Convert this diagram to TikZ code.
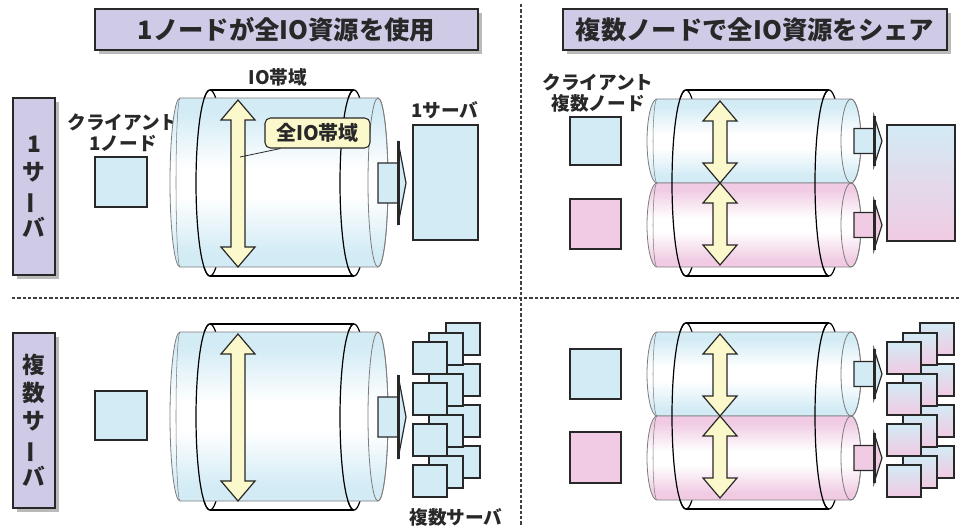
\documentclass[tikz,border=0pt]{standalone}
\usepackage{fontspec}
\setmainfont{Noto Sans CJK JP}
\usepackage{graphicx}
\usetikzlibrary{fit, calc, shadows}

\definecolor{hdrlav}{RGB}{207,202,230}
\definecolor{cliblue}{RGB}{210,235,245}
\definecolor{clipink}{RGB}{240,203,227}
\definecolor{bwyellow}{RGB}{251,248,204}
\definecolor{rimgray}{RGB}{125,125,125}
\definecolor{inkdark}{RGB}{40,40,40}

% long vowel mark turned upright for the vertical row titles
\newcommand{\vchoon}{\rotatebox[origin=c]{90}{ー}}

% pipe fills: colour at the rims, white in the middle
\pgfdeclareverticalshading{pipeblue}{100bp}{color(0bp)=(cliblue); color(29bp)=(cliblue); color(46bp)=(white); color(54bp)=(white); color(71bp)=(cliblue); color(100bp)=(cliblue)}
\pgfdeclareverticalshading{pipepink}{100bp}{color(0bp)=(clipink); color(29bp)=(clipink); color(46bp)=(white); color(54bp)=(white); color(71bp)=(clipink); color(100bp)=(clipink)}

\tikzset{
    header/.style={draw=inkdark, fill=hdrlav, line width=0.9pt, inner sep=0pt, drop shadow={shadow xshift=3pt, shadow yshift=-3pt, fill=black!45, opacity=0.6}},
    hdrtext/.style={inner sep=0pt, font=\fontsize{19}{22}\selectfont\bfseries, text=inkdark},
    rowtext/.style={inner sep=0pt, align=center, font=\fontsize{17}{21}\selectfont\bfseries, text=inkdark},
    lbl/.style={inner sep=0pt, align=center, font=\fontsize{14}{16}\selectfont\bfseries, text=inkdark},
    client/.style={draw=inkdark, line width=0.9pt, fill=cliblue, inner sep=0pt},
    clientpk/.style={client, fill=clipink},
    server/.style={client},
    servermix/.style={client, top color=cliblue, bottom color=clipink, middle color=cliblue!45!clipink},
    note/.style={draw=inkdark, fill=bwyellow, rounded corners=4pt, line width=0.8pt, inner sep=0pt},
    notetext/.style={inner sep=0pt, font=\fontsize{15}{17}\selectfont\bfseries, text=inkdark},
    rim/.style={draw=black, line width=0.9pt},
    divider/.style={draw=black!75, line width=1pt, dash pattern=on 2.5pt off 1.5pt},
    % inner IO pipe: length, y radius, shading
    pics/pipe/.style n args={3}{code={
        \path[draw=rimgray, line width=0.6pt, shading=#3]
            (0,-#2) -- (#1,-#2) arc[start angle=-90, end angle=90, x radius=10, y radius=#2]
            -- (0,#2) arc[start angle=90, end angle=270, x radius=10, y radius=#2] -- cycle;
        \draw[rimgray, line width=0.6pt] (#1,0) ellipse [x radius=10, y radius=#2];
        \draw[rimgray, line width=0.4pt] (0,-#2) arc[start angle=-90, end angle=-270, x radius=4, y radius=#2];
    }},
    % outer band ring, back part and front arcs
    pics/bandback/.style n args={2}{code={
        \draw[rim] (0,0) ellipse [x radius=14, y radius=#2] (#1,0) ellipse [x radius=14, y radius=#2];
        \draw[rim] (0,-#2) -- (#1,-#2) (0,#2) -- (#1,#2);
    }},
    pics/bandfront/.style n args={2}{code={
        \draw[rim] (0,-#2) arc[start angle=-90, end angle=-270, x radius=14, y radius=#2];
        \draw[rim] (#1,-#2) arc[start angle=-90, end angle=-270, x radius=14, y radius=#2];
    }},
    % yellow double arrow, tip at the origin, pointing up and down
    pics/bwarrow/.style={code={
        \draw[draw=inkdark, line width=0.9pt, fill=bwyellow, line join=miter]
            (0,0) -- (17,20) -- (7,20) -- (7,#1-20) -- (17,#1-20) -- (0,#1)
            -- (-17,#1-20) -- (-7,#1-20) -- (-7,20) -- (-17,20) -- cycle;
    }},
    % block arrow out of the pipe
    pics/outarrow/.style n args={3}{code={
        \draw[draw=inkdark, line width=0.9pt, fill=#3]
            (0,-#1) -- (20,-#1) -- (20,-#2) -- (28,0) -- (20,#2) -- (20,#1) -- (0,#1) -- cycle;
        \draw[inkdark, line width=1.6pt] (20.5,-#2) -- (20.5,#2);
    }}
}

\begin{document}
\begin{tikzpicture}[x=0.75pt, y=-0.75pt]
    \useasboundingbox (0,0) rectangle (959,526);

    % Dividers
    \coordinate (vtop) at (521,4);
    \coordinate (vbot) at (521,526);
    \coordinate (hleft) at (12,298);
    \coordinate (hright) at (959,298);
    \draw[divider] (vtop) -- (vbot);
    \draw[divider] (hleft) -- (hright);

    % Column and row titles
    \node[header, fit={(95,9) (478,50)}, label={[hdrtext]center:1ノードが全IO資源を使用}] (hdrone) {};
    \node[header, fit={(563,9) (947,50)}, label={[hdrtext]center:複数ノードで全IO資源をシェア}] (hdrmany) {};
    \node[header, fit={(13,98) (55,275)}, label={[rowtext]center:1\\サ\\\vchoon\\バ}] (rowone) {};
    \node[header, fit={(13,333) (55,508)}, label={[rowtext]center:複\\数\\サ\\\vchoon\\バ}] (rowmany) {};

    % 1 node / 1 server
    \node[lbl] (cliname) at (123,133) {クライアント\\1ノード};
    \node[client, fit={(95,157) (147,207)}] (clione) {};
    \pic at (210,183) {bandback={144}{93}};
    \pic at (180,182.5) {pipe={198}{84.5}{pipeblue}};
    \pic at (210,183) {bandfront={144}{93}};
    \pic at (238,100) {bwarrow=167};
    \node[lbl] (bwname) at (278,77) {IO帯域};
    \node[note, fit={(265,118) (370,148)}, label={[notetext]center:全IO帯域}] (bwnote) {};
    \coordinate (bwpt) at (240,157);
    \draw[inkdark, line width=0.6pt] (bwpt) -- ($(bwnote.south west)+(16,0)$);
    \pic at (378,183) {outarrow={20}{42}{cliblue}};
    \node[lbl] (srvname) at (445,110) {1サーバ};
    \node[server, fit={(413,125) (478,240)}] (srvone) {};

    % many nodes / 1 server
    \node[lbl] (climany) at (598,93) {クライアント\\複数ノード};
    \node[client, fit={(570,117) (621,165)}] (cliA) {};
    \node[clientpk, fit={(570,199) (621,249)}] (cliB) {};
    \pic at (686,183) {bandback={143}{93}};
    \pic at (657,141) {pipe={194}{42}{pipeblue}};
    \pic at (657,225) {pipe={194}{42}{pipepink}};
    \pic at (686,183) {bandfront={143}{93}};
    \pic at (720,101) {bwarrow=82};
    \pic at (720,183) {bwarrow=82};
    \pic at (854,141) {outarrow={12.5}{25}{cliblue}};
    \pic at (854,225) {outarrow={12.5}{25}{clipink}};
    \node[servermix, fit={(887,125) (955,241)}] (srvmix) {};

    % 1 node / many servers
    \node[client, fit={(95,391) (147,440)}] (clitwo) {};
    \begin{scope}[shift={(0,234)}]
        \pic at (210,183) {bandback={144}{93}};
        \pic at (180,182.5) {pipe={198}{84.5}{pipeblue}};
        \pic at (210,183) {bandfront={144}{93}};
        \pic at (238,100) {bwarrow=167};
        \pic at (378,183) {outarrow={20}{42}{cliblue}};
    \end{scope}
    \foreach \l/\dx/\dy in {2/33/19, 1/16/9, 0/0/0}
        \foreach \r in {0,...,3}
            \node[server, fit={(413+\dx,342-\dy+41*\r) (447+\dx,374-\dy+41*\r)}] (srvL\l\r) {};
    \node[lbl] (srvsname) at (456,517) {複数サーバ};

    % many nodes / many servers
    \node[client, fit={(570,349) (621,399)}] (cliC) {};
    \node[clientpk, fit={(570,432) (621,483)}] (cliD) {};
    \begin{scope}[shift={(0,233)}]
        \pic at (686,183) {bandback={143}{93}};
        \pic at (657,141) {pipe={194}{42}{pipeblue}};
        \pic at (657,225) {pipe={194}{42}{pipepink}};
        \pic at (686,183) {bandfront={143}{93}};
        \pic at (720,101) {bwarrow=82};
        \pic at (720,183) {bwarrow=82};
        \pic at (854,141) {outarrow={12.5}{25}{cliblue}};
        \pic at (854,225) {outarrow={12.5}{25}{clipink}};
    \end{scope}
    \foreach \l/\dx/\dy in {2/33/19, 1/16/9, 0/0/0}
        \foreach \r in {0,...,3}
            \node[servermix, fit={(887+\dx,342-\dy+41*\r) (921+\dx,374-\dy+41*\r)}] (srvR\l\r) {};
\end{tikzpicture}
\end{document}
